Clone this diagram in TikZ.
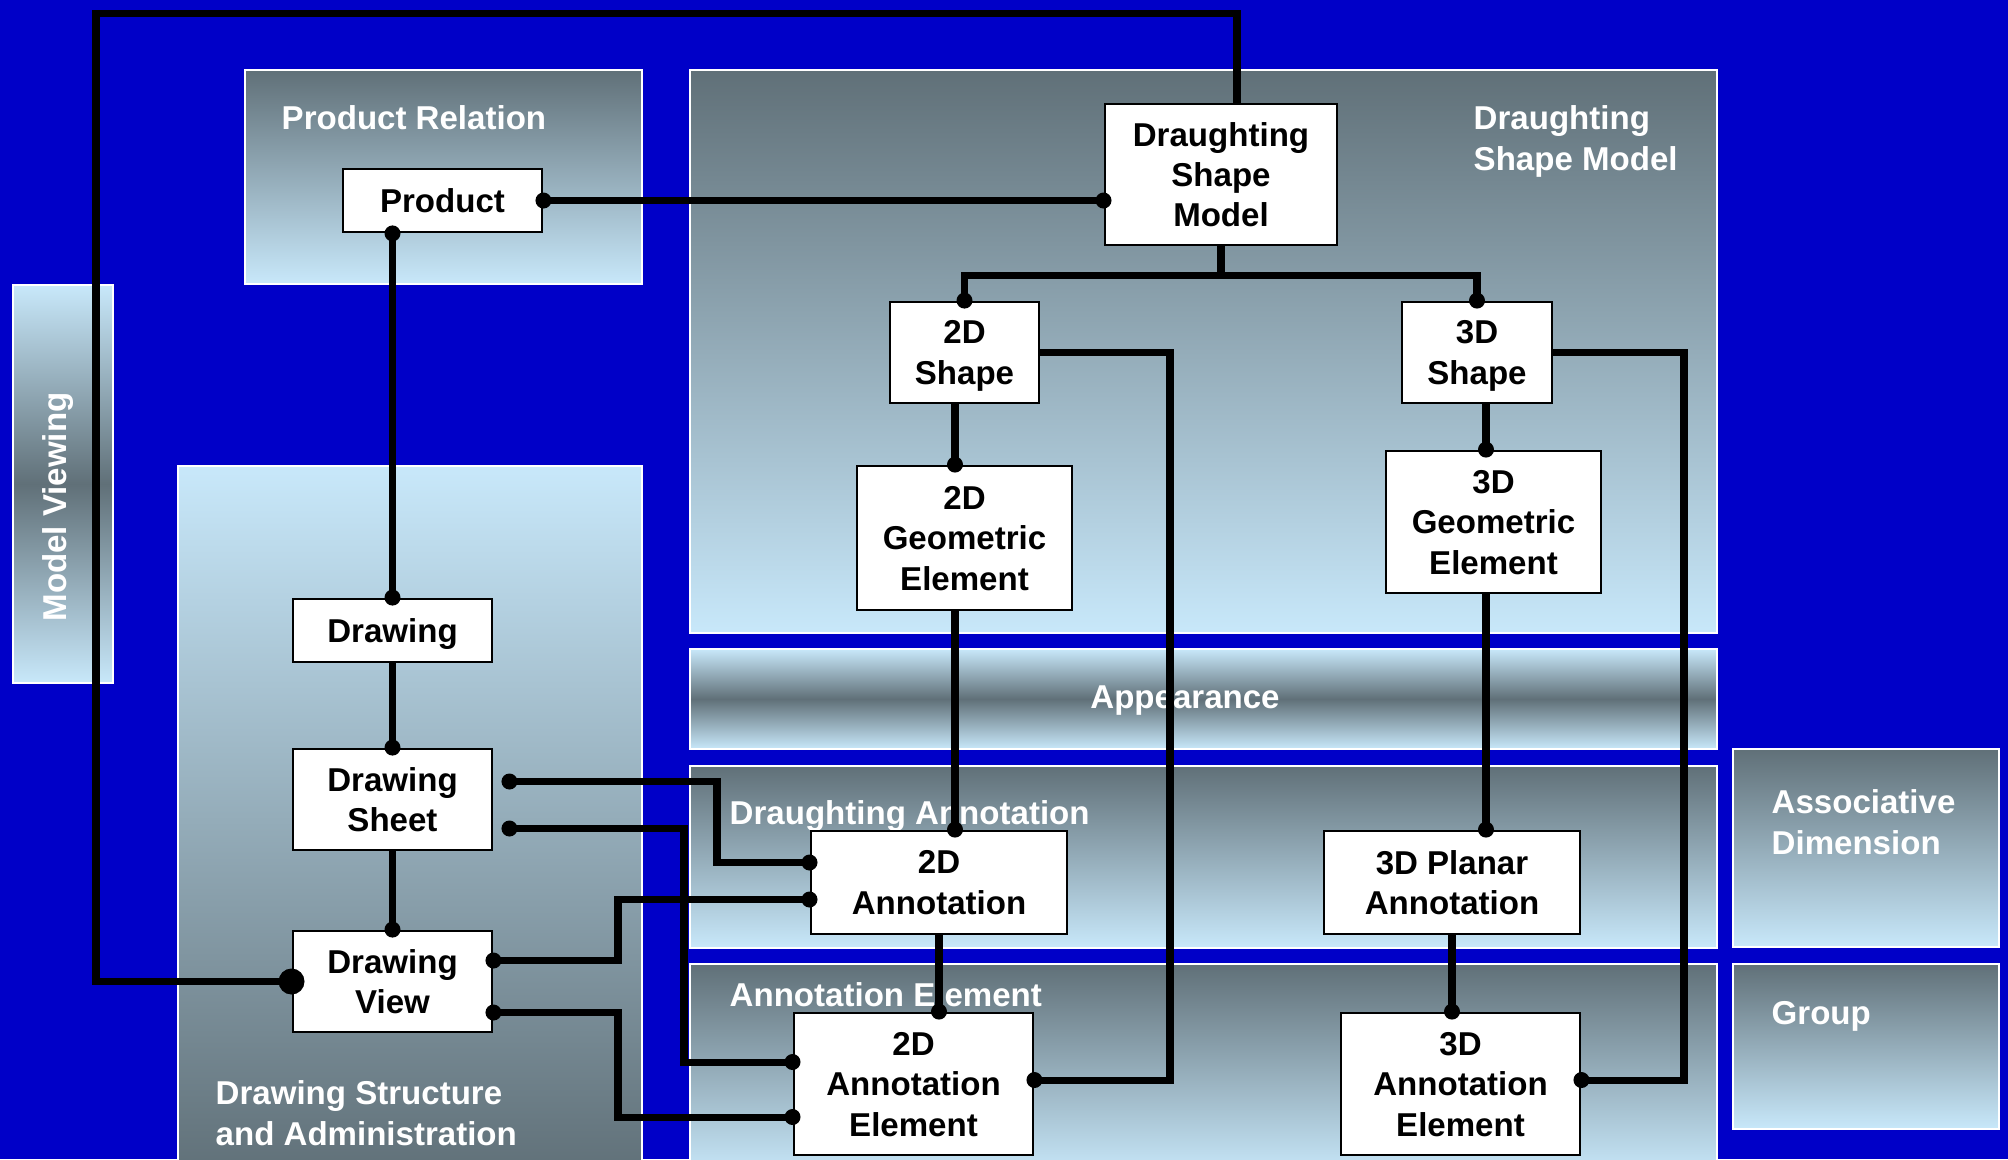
\documentclass[tikz,border=0pt]{standalone}
\usepackage{fontspec}
\setmainfont{Liberation Sans}
\usetikzlibrary{calc}

\definecolor{bgblue}{RGB}{0,0,200}
\definecolor{slate}{RGB}{96,112,120}
\definecolor{pale}{RGB}{200,232,250}

\newcommand{\lblfont}{\bfseries\fontsize{9.4}{11.5}\selectfont}

\tikzset{
  panel/.style={draw=white, line width=0.6pt},
  darktop/.style={panel, top color=slate, bottom color=pale},
  darkbottom/.style={panel, top color=pale, bottom color=slate},
  darkmid/.style={panel, top color=pale, bottom color=pale, middle color=slate},
  title/.style={text=white, font=\lblfont, inner sep=0pt, align=left},
  entity/.style={draw=black, fill=white, line width=0.8pt, font=\lblfont,
                 text=black, align=center, inner sep=0pt, text depth=0pt},
  conn/.style={draw=black, line width=2pt, line join=miter},
  joint/.style={fill=black},
}

\begin{document}
\begin{tikzpicture}[x=0.01cm, y=-0.01cm]
  \clip (0,0) rectangle (2008,1159);
  \fill[bgblue] (0,0) rectangle (2008,1159);

  % ---- grouping panels ----
  \path[darktop]    (245,70)   rectangle (642,284);
  \path[darktop]    (690,70)   rectangle (1717,633);
  \path[darkmid]    (13,285)   rectangle (113,683);
  \path[darkbottom] (178,466)  rectangle (642,1175);
  \path[darkmid]    (690,649)  rectangle (1717,749);
  \path[darktop]    (690,766)  rectangle (1717,948);
  \path[darktop]    (690,964)  rectangle (1717,1175);
  \path[darktop]    (1733,749) rectangle (1999,947);
  \path[darktop]    (1733,964) rectangle (1999,1129);

  % ---- panel titles ----
  \node[title, anchor=north west] (tProdRel) at (281,105) {Product Relation};
  \node[title, anchor=north west] (tDSM) at (1473,105) {Draughting\\Shape Model};
  \node[title, rotate=90] (tView) at (58,507) {Model Viewing};
  \node[title, anchor=north west] (tStruct) at (215,1080) {Drawing Structure\\and Administration};
  \node[title] (tAppear) at (1185,701) {Appearance};
  \node[title, anchor=north west] (tDAnn) at (729,800) {Draughting Annotation};
  \node[title, anchor=north west] (tAElem) at (729,982) {Annotation Element};
  \node[title, anchor=north west] (tAssoc) at (1771,789) {Associative\\Dimension};
  \node[title, anchor=north west] (tGroup) at (1771,1001) {Group};

  % ---- entities ----
  \node[entity, minimum width=1.99cm, minimum height=0.63cm] (product) at (442.5,200.5) {Product};
  \node[entity, minimum width=2.32cm, minimum height=1.41cm] (dsm) at (1221,174.5) {Draughting\\Shape\\Model};
  \node[entity, minimum width=1.49cm, minimum height=1.01cm] (s2) at (964.5,352.5) {2D\\Shape};
  \node[entity, minimum width=1.50cm, minimum height=1.01cm] (s3) at (1477,352.5) {3D\\Shape};
  \node[entity, minimum width=2.15cm, minimum height=1.44cm] (g2) at (964.5,538) {2D\\Geometric\\Element};
  \node[entity, minimum width=2.15cm, minimum height=1.42cm] (g3) at (1493.5,522) {3D\\Geometric\\Element};
  \node[entity, minimum width=1.99cm, minimum height=0.63cm] (drawing) at (392.5,630.5) {Drawing};
  \node[entity, minimum width=1.99cm, minimum height=1.01cm] (sheet) at (392.5,799.5) {Drawing\\Sheet};
  \node[entity, minimum width=1.99cm, minimum height=1.01cm] (view) at (392.5,981.5) {Drawing\\View};
  \node[entity, minimum width=2.56cm, minimum height=1.03cm] (a2) at (939,882.5) {2D\\Annotation};
  \node[entity, minimum width=2.56cm, minimum height=1.03cm] (a3) at (1452,882.5) {3D Planar\\Annotation};
  \node[entity, minimum width=2.39cm, minimum height=1.42cm] (ae2) at (913.5,1084) {2D\\Annotation\\Element};
  \node[entity, minimum width=2.39cm, minimum height=1.42cm] (ae3) at (1460.5,1084) {3D\\Annotation\\Element};

  % ---- routing helpers ----
  \coordinate (loopCorner) at (96,13);
  \coordinate (dsmTop) at ($(dsm.north)+(16,0)$);
  \coordinate (bus) at ($(dsm.south)+(0,29)$);
  \coordinate (col2) at (955,0);
  \coordinate (col3) at (1486,0);
  \coordinate (rise2) at (1170,0);
  \coordinate (rise3) at (1684,0);
  \coordinate (ae2R) at ($(ae2.east)+(0,-4)$);
  \coordinate (ae3R) at ($(ae3.east)+(0,-4)$);
  \coordinate (sA) at ($(sheet.east)+(16,-18)$);
  \coordinate (sB) at ($(sheet.east)+(16,29)$);
  \coordinate (vA) at ($(view.east)+(0,-21)$);
  \coordinate (vB) at ($(view.east)+(0,31)$);
  \coordinate (a2A) at ($(a2.west)+(0,-20)$);
  \coordinate (a2B) at ($(a2.west)+(0,17)$);
  \coordinate (ae2A) at ($(ae2.west)+(0,-22)$);
  \coordinate (ae2B) at ($(ae2.west)+(0,33)$);
  \coordinate (jog1) at (717,0);
  \coordinate (jog2) at (684,0);
  \coordinate (jog3) at (618,0);

  % ---- connectors ----
  \draw[conn] (view.west) -| (loopCorner) -| (dsmTop);
  \draw[conn] (product.east) -- (product.east -| dsm.west);
  \draw[conn] (product.south -| drawing.north) -- (drawing.north);
  \draw[conn] (drawing.south) -- (sheet.north);
  \draw[conn] (sheet.south) -- (view.north);
  \draw[conn] (dsm.south) -- (bus);
  \draw[conn] (s2.north) |- (bus) -| (s3.north);
  \draw[conn] (s2.south -| col2) -- (g2.north -| col2);
  \draw[conn] (g2.south -| col2) -- (a2.north -| col2);
  \draw[conn] (s3.south -| col3) -- (g3.north -| col3);
  \draw[conn] (g3.south -| col3) -- (a3.north -| col3);
  \draw[conn] (a2.south) -- (ae2.north -| a2.south);
  \draw[conn] (a3.south) -- (ae3.north -| a3.south);
  \draw[conn] (s2.east) -| (rise2 |- ae2R) -- (ae2R);
  \draw[conn] (s3.east) -| (rise3 |- ae3R) -- (ae3R);
  \draw[conn] (sA) -| (jog1 |- a2A) -- (a2A);
  \draw[conn] (sB) -| (jog2 |- ae2A) -- (ae2A);
  \draw[conn] (vA) -| (jog3 |- a2B) -- (a2B);
  \draw[conn] (vB) -| (jog3 |- ae2B) -- (ae2B);

  % ---- connector end dots ----
  \fill[joint] (view.west) circle[radius=13];
  \foreach \p in {product.east, drawing.north, sheet.north, view.north,
                  s2.north, s3.north, ae2R, ae3R,
                  sA, sB, vA, vB, a2A, a2B, ae2A, ae2B}
    \fill[joint] (\p) circle[radius=8];
  \fill[joint] (product.east -| dsm.west) circle[radius=8];
  \fill[joint] (product.south -| drawing.north) circle[radius=8];
  \fill[joint] (g2.north -| col2) circle[radius=8];
  \fill[joint] (a2.north -| col2) circle[radius=8];
  \fill[joint] (g3.north -| col3) circle[radius=8];
  \fill[joint] (a3.north -| col3) circle[radius=8];
  \fill[joint] (ae2.north -| a2.south) circle[radius=8];
  \fill[joint] (ae3.north -| a3.south) circle[radius=8];
\end{tikzpicture}
\end{document}
